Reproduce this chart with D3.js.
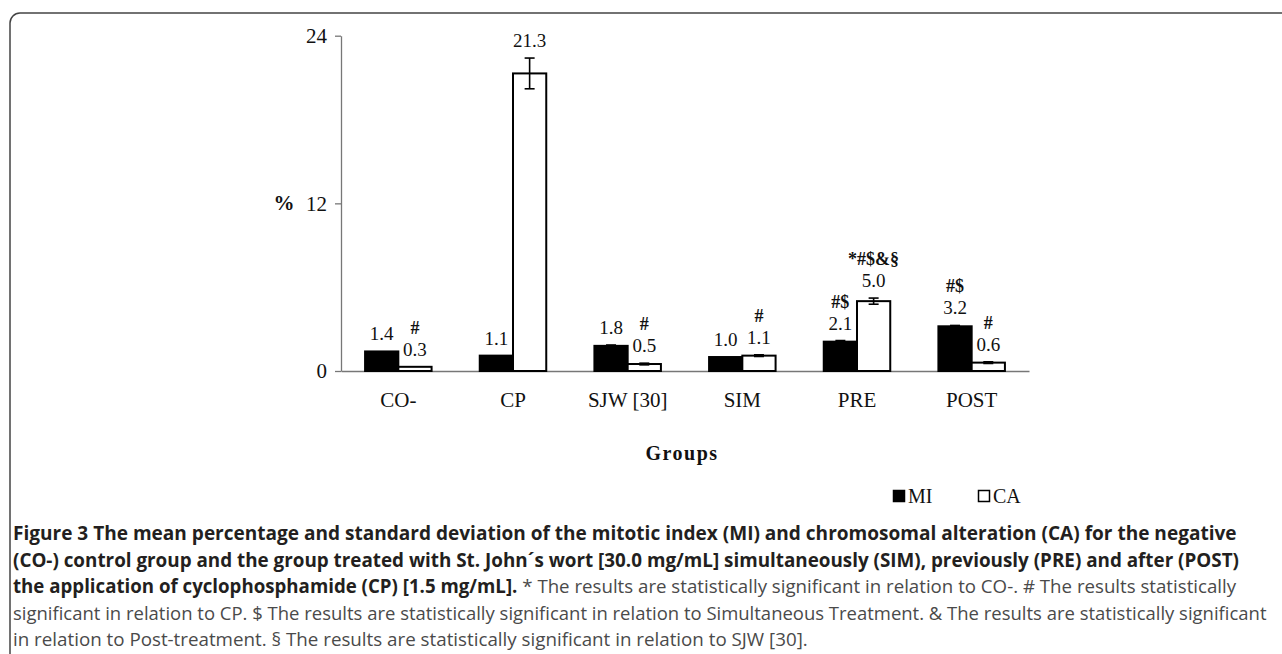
<!DOCTYPE html>
<html>
<head>
<meta charset="utf-8">
<script src="https://cdn.jsdelivr.net/npm/d3@7/dist/d3.min.js"></script>
<style>
  html, body { margin: 0; padding: 0; background: #fff; }
  svg { display: block; }
</style>
</head>
<body>
<svg id="chart" width="1282" height="654"></svg>
<script>
// ---------- data ----------
const categories = ["CO-", "CP", "SJW [30]", "SIM", "PRE", "POST"];
const seriesNames = ["MI", "CA"];
const miValues = [1.4, 1.1, 1.8, 1.0, 2.1, 3.2];
const caValues = [0.3, 21.3, 0.5, 1.1, 5.0, 0.6];
const miSD = [0, 0, 0.06, 0, 0.08, 0.06];
const caSD = [0, 1.1, 0.06, 0.06, 0.22, 0.06];
const miMarks = ["", "", "", "", "#$", "#$"];
const caMarks = ["#", "", "#", "#", "*#$&§", "#"];
const yTicks = [0, 12, 24];
const yLabel = "%";
const xLabel = "Groups";
const captionLines = [
  [{ b: true, t: "Figure 3 The mean percentage and standard deviation of the mitotic index (MI) and chromosomal alteration (CA) for the negative" }],
  [{ b: true, t: "(CO-) control group and the group treated with St. John´s wort [30.0 mg/mL] simultaneously (SIM), previously (PRE) and after (POST)" }],
  [{ b: true, t: "the application of cyclophosphamide (CP) [1.5 mg/mL]." }, { b: false, t: " * The results are statistically significant in relation to CO-. # The results statistically" }],
  [{ b: false, t: "significant in relation to CP. $ The results are statistically significant in relation to Simultaneous Treatment. & The results are statistically significant" }],
  [{ b: false, t: "in relation to Post-treatment. § The results are statistically significant in relation to SJW [30]." }]
];
const captionRight = [1237, 1240, 1237, 1267, 808];

// ---------- setup ----------
const svg = d3.select("#chart");
const serif = "'Liberation Serif', 'DejaVu Serif', serif";

// frame
svg.append("rect")
  .attr("x", 10).attr("y", 13)
  .attr("width", 1300).attr("height", 680)
  .attr("rx", 10).attr("ry", 10)
  .attr("fill", "none").attr("stroke", "#444").attr("stroke-width", 1.5);

const x0 = d3.scaleBand().domain(categories).range([341, 1029])
  .paddingInner(0.42).paddingOuter(0.21);
const x1 = d3.scaleBand().domain(seriesNames).range([0, x0.bandwidth()]);
const y = d3.scaleLinear().domain([0, 24]).range([371, 35.7]);

const rows = categories.map((c, i) => ({
  cat: c,
  items: [
    { s: "MI", v: miValues[i], sd: miSD[i], mark: miMarks[i] },
    { s: "CA", v: caValues[i], sd: caSD[i], mark: caMarks[i] }
  ]
}));

// axes
const yAxis = svg.append("g")
  .attr("transform", `translate(${x0.range()[0]},0)`)
  .call(d3.axisLeft(y).tickValues(yTicks).tickSize(6).tickSizeOuter(0).tickPadding(8));
yAxis.select(".domain").attr("stroke", "#777").attr("stroke-width", 1.3);
yAxis.selectAll(".tick line").attr("stroke", "#777").attr("stroke-width", 1.3);
yAxis.selectAll(".tick text")
  .attr("font-family", serif).attr("font-size", 21).attr("fill", "#111");

const xAxis = svg.append("g")
  .attr("transform", `translate(0,${y(0)})`)
  .call(d3.axisBottom(x0).tickSize(0).tickSizeOuter(0).tickPadding(21));
xAxis.select(".domain").attr("stroke", "#777").attr("stroke-width", 1.3);
xAxis.selectAll(".tick text")
  .attr("font-family", serif).attr("font-size", 21).attr("fill", "#111");

// bars
const groups = svg.append("g").selectAll("g").data(rows).join("g")
  .attr("transform", d => `translate(${x0(d.cat)},0)`);

groups.selectAll("rect").data(d => d.items).join("rect")
  .attr("x", d => x1(d.s))
  .attr("y", d => y(d.v))
  .attr("width", x1.bandwidth())
  .attr("height", d => y(0) - y(d.v))
  .attr("fill", d => d.s === "MI" ? "#000" : "#fff")
  .attr("stroke", "#000").attr("stroke-width", 2);

// error bars
const eb = groups.selectAll("g.err").data(d => d.items.filter(it => it.sd > 0)).join("g")
  .attr("class", "err")
  .attr("stroke", "#000").attr("stroke-width", 1.6);
const cx = d => x1(d.s) + x1.bandwidth() / 2;
eb.append("line")
  .attr("x1", cx).attr("x2", cx)
  .attr("y1", d => y(d.v + d.sd)).attr("y2", d => y(d.v - d.sd));
eb.append("line")
  .attr("x1", d => cx(d) - 5).attr("x2", d => cx(d) + 5)
  .attr("y1", d => y(d.v + d.sd)).attr("y2", d => y(d.v + d.sd));
eb.append("line")
  .attr("x1", d => cx(d) - 5).attr("x2", d => cx(d) + 5)
  .attr("y1", d => y(d.v - d.sd)).attr("y2", d => y(d.v - d.sd));

// value labels
groups.selectAll("text.val").data(d => d.items).join("text")
  .attr("class", "val")
  .attr("x", cx)
  .attr("y", d => y(d.v + d.sd) - 11)
  .attr("text-anchor", "middle")
  .attr("font-family", serif).attr("font-size", 19).attr("fill", "#111")
  .text(d => d.v.toFixed(1));

groups.selectAll("text.mark").data(d => d.items.filter(it => it.mark)).join("text")
  .attr("class", "mark")
  .attr("x", cx)
  .attr("y", d => y(d.v + d.sd) - 33)
  .attr("text-anchor", "middle")
  .attr("font-family", serif).attr("font-size", 18).attr("font-weight", "bold").attr("fill", "#111")
  .text(d => d.mark);

// axis titles
svg.append("text")
  .attr("x", 284).attr("y", y(12) + 7)
  .attr("text-anchor", "middle")
  .attr("font-family", serif).attr("font-size", 21).attr("font-weight", "bold").attr("fill", "#111")
  .text(yLabel);

svg.append("text")
  .attr("x", 682).attr("y", 460)
  .attr("text-anchor", "middle")
  .attr("font-family", serif).attr("font-size", 20).attr("font-weight", "bold")
  .attr("letter-spacing", 1.5).attr("fill", "#111")
  .text(xLabel);

// legend
const legendX = [893, 978];
const legend = svg.append("g").selectAll("g").data(seriesNames).join("g")
  .attr("transform", (d, i) => `translate(${legendX[i]},490)`);
legend.append("rect")
  .attr("x", 0.5).attr("y", 0.5).attr("width", 11).attr("height", 11)
  .attr("fill", d => d === "MI" ? "#000" : "#fff")
  .attr("stroke", "#000").attr("stroke-width", 1.5);
legend.append("text")
  .attr("x", 15).attr("y", 13)
  .attr("font-family", serif).attr("font-size", 20).attr("fill", "#111")
  .text(d => d);

// caption
const capFont = "'Open Sans', 'Noto Sans', sans-serif";
captionLines.forEach((parts, i) => {
  const baseY = 540 + i * 26.5;
  const t = svg.append("text")
    .attr("x", 0).attr("y", 0)
    .attr("font-family", capFont).attr("font-size", 19);
  parts.forEach(p => {
    t.append("tspan")
      .attr("font-weight", p.b ? "bold" : "normal")
      .attr("fill", p.b ? "#231f20" : "#4a4a4a")
      .attr("xml:space", "preserve")
      .style("white-space", "pre")
      .text(p.t);
  });
  const w = t.node().getComputedTextLength();
  const k = (captionRight[i] - 13) / w;
  t.attr("transform", `translate(13,${baseY}) scale(${k},1)`);
});
</script>
</body>
</html>
